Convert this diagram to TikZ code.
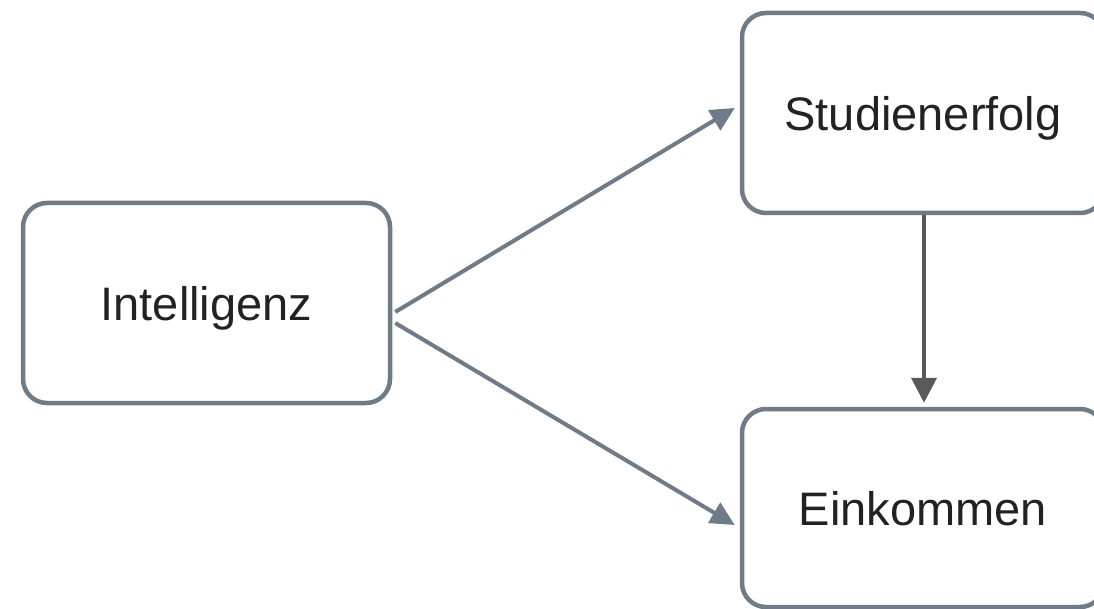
\documentclass[tikz,border=0pt]{standalone}
\usepackage{fontspec}
\setmainfont{Liberation Sans}
\usetikzlibrary{arrows.meta}
\definecolor{boxc}{HTML}{6E7B88}
\definecolor{vc}{HTML}{595959}
\definecolor{txt}{HTML}{222222}
\tikzset{
  box/.style={draw=boxc, line width=4.5pt, rounded corners=24pt, fill=white,
    text=txt, font=\fontsize{47}{56}\selectfont, inner sep=0pt, text depth=0pt},
  conn/.style={draw=boxc, line width=4pt, -{Triangle[length=24pt,width=23pt]}},
  vconn/.style={draw=vc, line width=4pt, -{Triangle[length=25pt,width=25pt]}}
}
\begin{document}
\begin{tikzpicture}[x=1pt,y=-1pt]
\fill[white] (0,0) rectangle (1094,609);
\useasboundingbox (0,0) rectangle (1094,609);
\node[box, minimum width=367pt, minimum height=200pt] (I) at (206.5,303) {Intelligenz};
\node[box, minimum width=362pt, minimum height=200pt] (S) at (923,113) {Studienerfolg};
\node[box, minimum width=362pt, minimum height=198pt] (E) at (923,508) {Einkommen};
\draw[conn] ([shift={(3,9)}]I.east) -- ([shift={(-5,-5)}]S.west);
\draw[conn] ([shift={(3,20)}]I.east) -- ([shift={(-5,17)}]E.west);
\draw[vconn] ([xshift=1pt]S.south) -- ([xshift=1pt,yshift=4pt]E.north);
\end{tikzpicture}
\end{document}
